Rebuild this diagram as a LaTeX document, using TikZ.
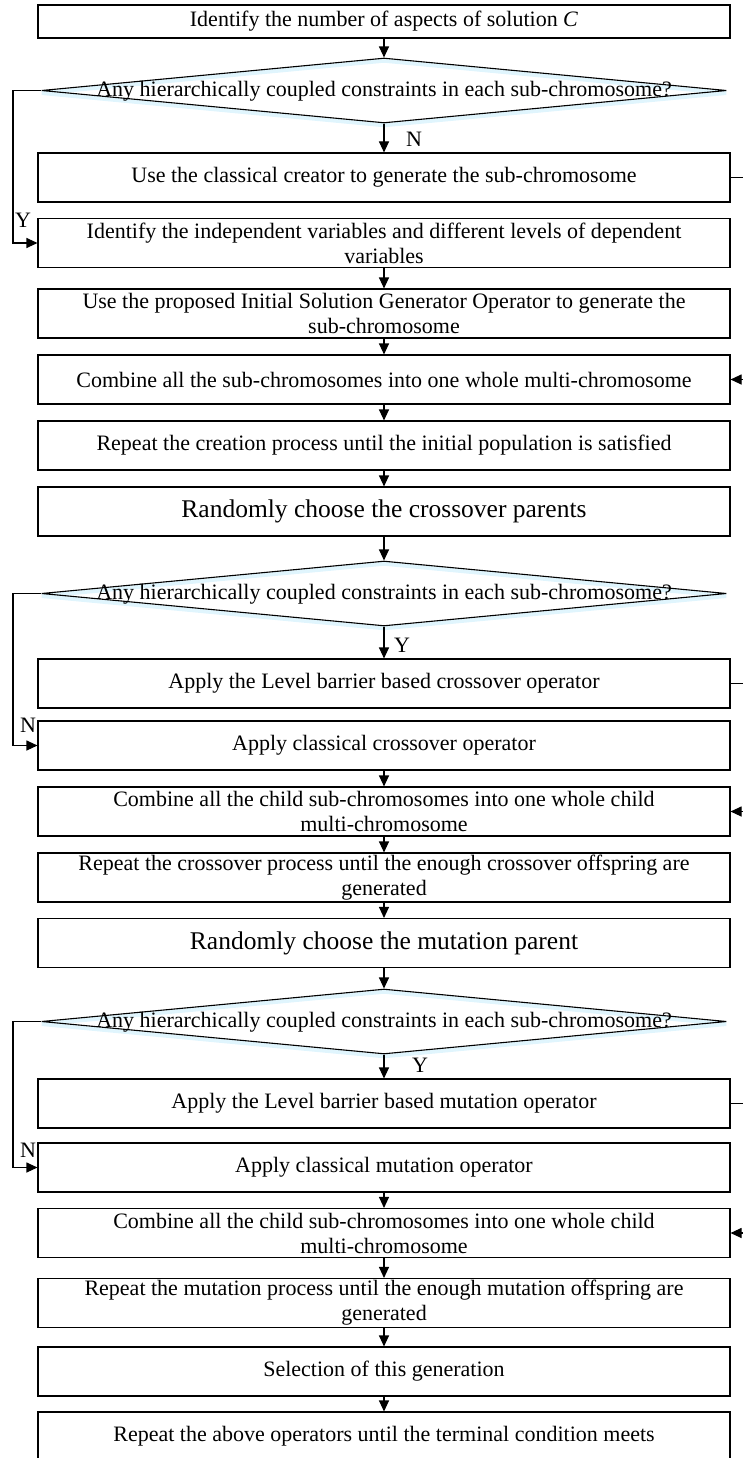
\documentclass[tikz,border=0pt]{standalone}
\usepackage{fontspec}
\setmainfont{Liberation Serif}
\usetikzlibrary{arrows.meta, shapes.geometric}

\begin{document}
\begin{tikzpicture}[
    x=1pt, y=-1pt, line width=1.1pt,
    box/.style={draw, minimum width=692, minimum height=49, inner sep=0,
                align=center, font=\fontsize{22}{25}\selectfont},
    bigbox/.style={box, font=\fontsize{25.5}{28}\selectfont},
    decision/.style={draw, diamond, minimum width=685, minimum height=65, inner sep=0,
                     preaction={draw=cyan!12, line width=4pt,
                                transform canvas={shift={(0,2.5)}}}},
    ask/.style={font=\fontsize{22}{25}\selectfont, inner sep=0},
    yn/.style={font=\fontsize{22}{25}\selectfont, inner sep=1},
    >={Triangle[length=11pt, width=10pt]}
  ]
  \useasboundingbox (0,0) rectangle (743,1458);
  \coordinate (lx) at (13,0);
  \coordinate (rx) at (752,0);

  % Creation of the initial population
  \node[box, minimum height=33] (count) at (384,21.5) {Identify the number of aspects of solution \textit{C}};
  \node[decision] (ask1) at (384,90.5) {};
  \node[ask] (ask1t) at (384,91) {Any hierarchically coupled constraints in each sub-chromosome?};
  \node[box] (creator)  at (384,177.5) {Use the classical creator to generate the sub-chromosome};
  \node[box] (indep)    at (384,243)   {Identify the independent variables and different levels of dependent\\variables};
  \node[box] (isgo)     at (384,313.5) {Use the proposed Initial Solution Generator Operator to generate the\\sub-chromosome};
  \node[box] (combine1) at (384,379.5) {Combine all the sub-chromosomes into one whole multi-chromosome};
  \node[box] (repeat1)  at (384,445.5) {Repeat the creation process until the initial population is satisfied};

  % Crossover
  \node[bigbox] (pickx) at (384,511.5) {Randomly choose the crossover parents};
  \node[decision] (ask2) at (384,593.5) {};
  \node[ask] (ask2t) at (384,594) {Any hierarchically coupled constraints in each sub-chromosome?};
  \node[box] (lbx)      at (384,683.5) {Apply the Level barrier based crossover operator};
  \node[box] (clx)      at (384,745.5) {Apply classical crossover operator};
  \node[box] (combine2) at (384,811.5) {Combine all the child sub-chromosomes into one whole child\\multi-chromosome};
  \node[box] (repeat2)  at (384,877.5) {Repeat the crossover process until the enough crossover offspring are\\generated};

  % Mutation
  \node[bigbox] (pickm) at (384,943) {Randomly choose the mutation parent};
  \node[decision] (ask3) at (384,1021.5) {};
  \node[ask] (ask3t) at (384,1022) {Any hierarchically coupled constraints in each sub-chromosome?};
  \node[box] (lbm)      at (384,1103.5) {Apply the Level barrier based mutation operator};
  \node[box] (clm)      at (384,1167.5) {Apply classical mutation operator};
  \node[box] (combine3) at (384,1233)   {Combine all the child sub-chromosomes into one whole child\\multi-chromosome};
  \node[box] (repeat3)  at (384,1303)   {Repeat the mutation process until the enough mutation offspring are\\generated};
  \node[box] (select)   at (384,1371.5) {Selection of this generation};
  \node[box] (stop)     at (384,1436.5) {Repeat the above operators until the terminal condition meets};

  % Main flow
  \draw[->] (count) -- (ask1);
  \draw[->] (ask1) -- (creator);
  \draw[->] (indep) -- (isgo);
  \draw[->] (isgo) -- (combine1);
  \draw[->] (combine1) -- (repeat1);
  \draw[->] (repeat1) -- (pickx);
  \draw[->] (pickx) -- (ask2);
  \draw[->] (ask2) -- (lbx);
  \draw[->] (clx) -- (combine2);
  \draw[->] (combine2) -- (repeat2);
  \draw[->] (repeat2) -- (pickm);
  \draw[->] (pickm) -- (ask3);
  \draw[->] (ask3) -- (lbm);
  \draw[->] (clm) -- (combine3);
  \draw[->] (combine3) -- (repeat3);
  \draw[->] (repeat3) -- (select);
  \draw[->] (select) -- (stop);

  % Branches
  \draw[->] (ask1.west) -- (ask1.west -| lx) |- (indep.west);
  \draw[->] (ask2.west) -- (ask2.west -| lx) |- (clx.west);
  \draw[->] (ask3.west) -- (ask3.west -| lx) |- (clm.west);
  \draw[->] (creator.east) -- (creator.east -| rx) |- (combine1.east);
  \draw[->] (lbx.east) -- (lbx.east -| rx) |- (combine2.east);
  \draw[->] (lbm.east) -- (lbm.east -| rx) |- (combine3.east);

  % Y/N labels
  \node[yn] (n1) at (414,139)  {N};
  \node[yn] (y1) at (23,220)   {Y};
  \node[yn] (y2) at (402,645)  {Y};
  \node[yn] (n2) at (28,725)   {N};
  \node[yn] (y3) at (420,1065) {Y};
  \node[yn] (n3) at (28,1150)  {N};
\end{tikzpicture}
\end{document}
